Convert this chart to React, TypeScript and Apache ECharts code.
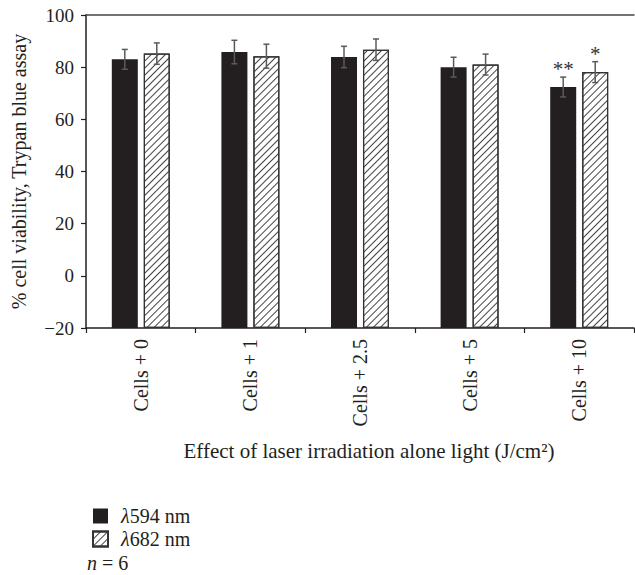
import React, { useEffect, useRef } from "react";
import * as echarts from "echarts";

const categories = ["Cells + 0", "Cells + 1", "Cells + 2.5", "Cells + 5", "Cells + 10"];
const seriesNames = ["λ594 nm", "λ682 nm"];
const values594 = [83, 85.8, 83.9, 80, 72.4];
const errors594 = [3.8, 4.5, 4.1, 3.8, 3.8];
const values682 = [85.2, 84.2, 86.7, 81, 78.1];
const errors682 = [4.1, 4.6, 4.1, 4.0, 4.0];
const stars594 = ["", "", "", "", "**"];
const stars682 = ["", "", "", "", "*"];
const yTicks = { min: -20, max: 100, interval: 20 };

const FONT = "'Liberation Serif', 'DejaVu Serif', serif";
const INK = "#231f20";

export default function App() {
  const ref = useRef<HTMLDivElement>(null);
  useEffect(() => {
    if (!ref.current) return;
    const chart = echarts.init(ref.current, undefined, { renderer: "svg" });

    // bars grow from the axis minimum: plot them on a hidden axis shifted by the minimum
    const shift = (vals: number[]) => vals.map((v) => v - yTicks.min);

    const errSeries = (vals: number[], errs: number[], stars: string[], offset: number) => ({
      type: "custom",
      silent: true,
      z: 10,
      yAxisIndex: 0,
      data: vals.map((v, i) => [i, v, errs[i]]),
      encode: { x: 0, y: 1 },
      renderItem: (params: any, api: any) => {
        const i = api.value(0);
        const v = api.value(1);
        const e = api.value(2);
        const star = stars[params.dataIndex];
        const top = api.coord([i, v + e]);
        const bot = api.coord([i, v - e]);
        const x = top[0] + offset;
        const cap = 3;
        const lineStyle = { stroke: "#5a5a5a", lineWidth: 1.5 };
        const children: any[] = [
          { type: "line", shape: { x1: x, y1: top[1], x2: x, y2: bot[1] }, style: lineStyle },
          { type: "line", shape: { x1: x - cap, y1: top[1], x2: x + cap, y2: top[1] }, style: lineStyle },
          { type: "line", shape: { x1: x - cap, y1: bot[1], x2: x + cap, y2: bot[1] }, style: lineStyle },
        ];
        if (star) {
          children.push({
            type: "text",
            x,
            y: top[1] - 8,
            style: {
              text: star,
              fontSize: 21,
              fontFamily: FONT,
              fill: "#333",
              align: "center",
              verticalAlign: "middle",
            },
          });
        }
        return { type: "group", children };
      },
    });

    chart.setOption({
      animation: false,
      aria: { enabled: true, decal: { show: true } },
      grid: { left: 86, right: 1, top: 15, bottom: 247 },
      xAxis: [
        {
          type: "category",
          data: categories,
          position: "bottom",
          axisLine: { onZero: false, lineStyle: { color: INK, width: 1.5 } },
          axisTick: { show: true, length: 5, lineStyle: { color: INK, width: 1.2 } },
          axisLabel: {
            rotate: 90,
            fontSize: 20,
            fontFamily: FONT,
            color: INK,
            margin: 11,
          },
          name: "Effect of laser irradiation alone light (J/cm²)",
          nameLocation: "middle",
          nameGap: 112,
          nameTextStyle: { fontSize: 21, fontFamily: FONT, color: INK, padding: [0, 0, 0, 18] },
        },
        {
          type: "category",
          data: categories,
          position: "top",
          axisLine: { show: true, onZero: false, lineStyle: { color: "#444", width: 1.5 } },
          axisTick: { show: false },
          axisLabel: { show: false },
        },
      ],
      yAxis: [
        {
          type: "value",
          min: yTicks.min,
          max: yTicks.max,
          interval: yTicks.interval,
          splitLine: { show: false },
          axisLine: { show: true, onZero: false, lineStyle: { color: INK, width: 1.5 } },
          axisTick: { show: true, length: 5, lineStyle: { color: INK, width: 1.2 } },
          axisLabel: {
            fontSize: 19,
            fontFamily: FONT,
            color: INK,
            margin: 12,
            formatter: (v: number) => (v < 0 ? "\u2212" + Math.abs(v) : String(v)),
          },
          name: "% cell viability, Trypan blue assay",
          nameLocation: "middle",
          nameGap: 57,
          nameTextStyle: { fontSize: 20, fontFamily: FONT, color: INK },
        },
        {
          type: "value",
          show: false,
          min: 0,
          max: yTicks.max - yTicks.min,
          interval: yTicks.interval,
          splitLine: { show: false },
        },
      ],
      legend: {
        orient: "vertical",
        left: 87,
        top: 501,
        itemWidth: 15,
        itemHeight: 15,
        itemGap: 3,
        icon: "rect",
        data: seriesNames,
        formatter: (name: string) => `{i|${name.slice(0, 1)}}{t|${name.slice(1)}}`,
        textStyle: {
          fontSize: 20,
          lineHeight: 20,
          fontFamily: FONT,
          color: INK,
          padding: [0, 0, 0, 8],
          rich: {
            i: { fontStyle: "italic", fontSize: 20, lineHeight: 20, fontFamily: FONT, color: INK },
            t: { fontSize: 20, lineHeight: 20, fontFamily: FONT, color: INK },
          },
        },
      },
      graphic: [
        {
          type: "text",
          left: 87,
          top: 553,
          style: {
            text: "{i|n} = 6",
            fontSize: 20,
            fontFamily: FONT,
            fill: INK,
            rich: { i: { fontStyle: "italic", fontSize: 20, fontFamily: FONT, fill: INK } },
          },
        },
      ],
      series: [
        {
          name: seriesNames[0],
          type: "bar",
          yAxisIndex: 1,
          data: shift(values594),
          barWidth: 26,
          barGap: "23%",
          itemStyle: { color: INK, decal: { symbol: "none" } },
        },
        {
          name: seriesNames[1],
          type: "bar",
          yAxisIndex: 1,
          data: shift(values682),
          barWidth: 26,
          barGap: "23%",
          itemStyle: {
            color: "#ffffff",
            borderColor: "#333",
            borderWidth: 1.2,
            decal: {
              symbol: "rect",
              symbolSize: 1,
              dashArrayX: [1, 0],
              dashArrayY: [1, 4],
              rotation: -Math.PI / 4,
              color: "#444",
            },
          },
        },
        errSeries(values594, errors594, stars594, -16),
        errSeries(values682, errors682, stars682, 16),
      ],
    });
    return () => chart.dispose();
  }, []);
  return <div ref={ref} style={{ position: "absolute", left: 0, top: 0, width: 635, height: 575 }} />;
}
